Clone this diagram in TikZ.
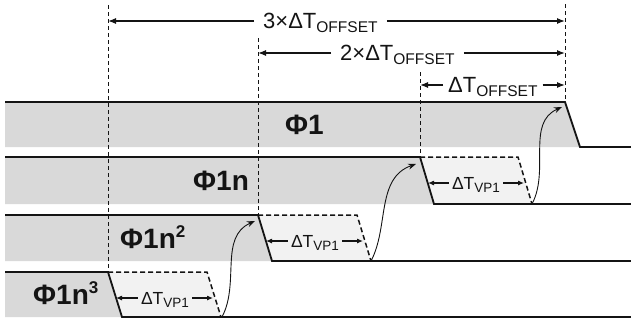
\documentclass[tikz,border=0pt]{standalone}
\usepackage{fontspec}
\setmainfont{Liberation Sans}
\usetikzlibrary{arrows.meta}
\definecolor{rowgray}{RGB}{217,217,217}
\definecolor{lightfill}{RGB}{242,242,242}
\definecolor{ink}{RGB}{20,20,20}
\newcommand{\offsub}{\raisebox{-4pt}{\fontsize{15.5}{15.5}\selectfont OFFSET}}
\newcommand{\vpsub}{\raisebox{-3pt}{\fontsize{13.5}{13.5}\selectfont VP1}}
\newcommand{\supnum}[1]{\raisebox{10.5pt}{\fontsize{17}{17}\selectfont #1}}
\begin{document}
\begin{tikzpicture}[x=1pt,y=-1pt,
  sig/.style={line width=1.8pt, draw=ink, line join=miter},
  ghost/.style={line width=1.5pt, draw=ink, dash pattern=on 5pt off 3pt},
  guide/.style={line width=0.9pt, draw=ink, dash pattern=on 4pt off 3pt},
  dimarrow/.style={line width=1.2pt, draw=ink, -{Latex[length=8pt,width=6pt]}},
  smallarrow/.style={line width=1.1pt, draw=ink, -{Latex[length=6pt,width=5pt]}},
  curvarrow/.style={line width=0.9pt, draw=ink, -{Stealth[length=8pt,width=6pt]}},
  offlab/.style={inner ysep=0pt, inner xsep=9pt, anchor=base west, text=ink, font=\fontsize{22}{22}\selectfont},
  vplab/.style={inner ysep=0pt, inner xsep=3pt, anchor=base, text=ink, font=\fontsize{17.5}{17.5}\selectfont},
  philab/.style={inner sep=0pt, anchor=base west, text=ink, font=\bfseries\fontsize{28}{28}\selectfont}
]
\useasboundingbox (0,0) rectangle (631,324);

% ---- fills
\fill[rowgray] (5,102) -- (565,102) -- (580,147) -- (5,147) -- cycle;
\fill[rowgray] (5,157) -- (420,157) -- (434,204) -- (5,204) -- cycle;
\fill[lightfill] (420,157) -- (518,157) -- (532,204) -- (434,204) -- cycle;
\fill[rowgray] (5,215) -- (258,215) -- (272,261) -- (5,261) -- cycle;
\fill[lightfill] (258,215) -- (357,215) -- (371,261) -- (272,261) -- cycle;
\fill[rowgray] (5,272) -- (108,272) -- (122,317) -- (5,317) -- cycle;
\fill[lightfill] (108,272) -- (207,272) -- (221,317) -- (122,317) -- cycle;

% ---- vertical guides
\coordinate (v1t) at (108,5);   \coordinate (v1b) at (108,272);
\coordinate (v2t) at (258,38);  \coordinate (v2b) at (258,215);
\coordinate (v3t) at (420,72);  \coordinate (v3b) at (420,157);
\coordinate (v4t) at (565,4);   \coordinate (v4b) at (565,102);
\draw[guide] (v1t) -- (v1b);
\draw[guide] (v2t) -- (v2b);
\draw[guide] (v3t) -- (v3b);
\draw[guide] (v4t) -- (v4b);

% ---- signals
\draw[sig] (5,102) -- (565,102) -- (580,147) -- (631,147);
\draw[sig] (5,157) -- (420,157) -- (434,204) -- (631,204);
\draw[ghost] (420,157) -- (518,157) -- (532,204);
\draw[sig] (5,215) -- (258,215) -- (272,261) -- (631,261);
\draw[ghost] (258,215) -- (357,215) -- (371,261);
\draw[sig] (5,272) -- (108,272) -- (122,317) -- (631,317);
\draw[ghost] (108,272) -- (207,272) -- (221,317);

% ---- phase labels
\node[philab] (p1) at (285,134) {Φ1};
\node[philab] (p2) at (193,190) {Φ1n};
\node[philab] (p3) at (120,248) {Φ1n\supnum{2}};
\node[philab] (p4) at (33,304) {Φ1n\supnum{3}};

% ---- offset dimensions
\coordinate (a3l) at (108,21); \coordinate (a3r) at (565,21);
\coordinate (a2l) at (258,53); \coordinate (a2r) at (565,53);
\coordinate (a1l) at (420,85); \coordinate (a1r) at (565,85);
\node[offlab] (o3) at (254,28) {3×ΔT\offsub};
\node[offlab] (o2) at (331,60) {2×ΔT\offsub};
\node[offlab, inner xsep=5pt] (o1) at (443,92) {ΔT\offsub};
\draw[dimarrow] (o3.west |- a3l) -- (a3l);
\draw[dimarrow] (o3.east |- a3r) -- (a3r);
\draw[dimarrow] (o2.west |- a2l) -- (a2l);
\draw[dimarrow] (o2.east |- a2r) -- (a2r);
\draw[dimarrow] (o1.west |- a1l) -- (a1l);
\draw[dimarrow] (o1.east |- a1r) -- (a1r);

% ---- VP1 dimensions
\node[vplab] (d2) at (476,189) {ΔT\vpsub};
\coordinate (d2l) at (428,183); \coordinate (d2r) at (524,183);
\draw[smallarrow] (d2.west |- d2l) -- (d2l);
\draw[smallarrow] (d2.east |- d2r) -- (d2r);
\node[vplab] (d3) at (315,247) {ΔT\vpsub};
\coordinate (d3l) at (266,241); \coordinate (d3r) at (363,241);
\draw[smallarrow] (d3.west |- d3l) -- (d3l);
\draw[smallarrow] (d3.east |- d3r) -- (d3r);
\node[vplab] (d4) at (165,304) {ΔT\vpsub};
\coordinate (d4l) at (116,298); \coordinate (d4r) at (213,298);
\draw[smallarrow] (d4.west |- d4l) -- (d4l);
\draw[smallarrow] (d4.east |- d4r) -- (d4r);

% ---- causal curves
\coordinate (c4s) at (222,317); \coordinate (c3e) at (255,221);
\coordinate (c3s) at (371,261); \coordinate (c2e) at (416,164);
\coordinate (c2s) at (532,204); \coordinate (c1e) at (562,107);
\draw[curvarrow] (c4s) .. controls +(18,-34) and +(-36,16) .. (c3e);
\draw[curvarrow] (c3s) .. controls +(18,-34) and +(-40,14) .. (c2e);
\draw[curvarrow] (c2s) .. controls +(18,-34) and +(-36,16) .. (c1e);
\end{tikzpicture}
\end{document}
